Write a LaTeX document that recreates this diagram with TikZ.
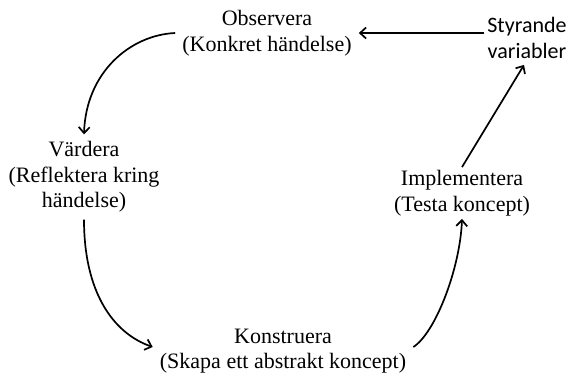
\documentclass[tikz,border=0pt]{standalone}
\usepackage{fontspec}
\setmainfont{Liberation Serif}
\newfontfamily\calibrifont{Carlito}
\usetikzlibrary{arrows.meta}

\tikzset{
	stage/.style={align=center,inner sep=7pt,font=\fontsize{22}{25.5}\selectfont},
	ctrl/.style={align=center,inner sep=3pt,font=\calibrifont\fontsize{22}{26}\selectfont},
	flow/.style={line width=1.7pt,-{Straight Barb[length=6pt,width=11pt]}},
}

\begin{document}
\begin{tikzpicture}[x=1pt,y=1pt]
	\useasboundingbox (0,0) rectangle (569,-376);
	%Steg i cykeln
	\node[stage] (obs) at (267,-33) {Observera\\(Konkret händelse)};
	\node[stage] (vard) at (84,-177) {Värdera\\(Reflektera kring\\händelse)};
	\node[stage] (kons) at (283,-351) {Konstruera\\(Skapa ett abstrakt koncept)};
	\node[stage] (impl) at (462,-193) {Implementera\\(Testa koncept)};
	\node[ctrl] (styr) at (527,-38) {Styrande\\variabler};
	%Pilar
	\draw[flow] (styr.west |- obs.east) -- (obs.east);
	\draw[flow] (obs.west) .. controls +(-45,-2) and +(2,62) .. (vard.north);
	\draw[flow] (vard.south) .. controls +(0,-72) and +(-40,14) .. ([yshift=4pt]kons.west);
	\draw[flow] ([yshift=4pt]kons.east) .. controls +(22,14) and +(-2,-50) .. ([yshift=4pt]impl.south);
	\draw[flow] ([yshift=-4pt]impl.north) -- ([xshift=-3pt,yshift=-3pt]styr.south);
\end{tikzpicture}
\end{document}
